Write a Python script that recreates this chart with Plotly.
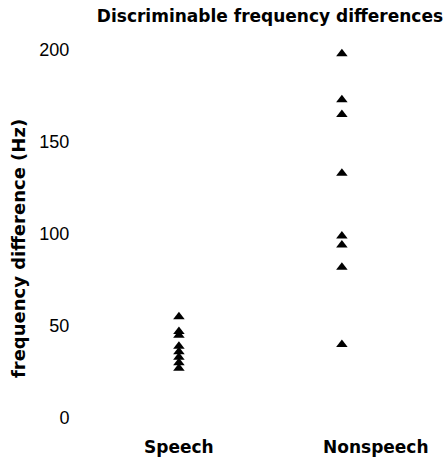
import plotly.graph_objects as go

# Discriminable frequency differences (Hz) per listener
categories = ["Speech", "Nonspeech"]
cat_pos = [1, 2]
speech_hz = [55, 47, 45, 39, 36, 33, 30, 27]
nonspeech_hz = [198, 173, 165, 133, 99, 94, 82, 40]
y_ticks = [0, 50, 100, 150, 200]

BOLD = dict(family="DejaVu Sans", size=17, color="black", weight="bold")

fig = go.Figure()
for pos, vals in zip(cat_pos, [speech_hz, nonspeech_hz]):
    fig.add_trace(go.Scatter(
        x=[pos] * len(vals), y=vals, mode="markers",
        marker=dict(symbol="triangle-up", size=10, color="black", line=dict(width=0)),
        showlegend=False, hoverinfo="y",
    ))

fig.update_layout(
    width=444, height=460,
    margin=dict(l=80, r=4, t=30, b=30),
    paper_bgcolor="white", plot_bgcolor="white",
    title=dict(text="Discriminable frequency differences", font=BOLD,
               xref="container", yref="container", x=0.608, y=0.965,
               xanchor="center", yanchor="middle"),
    xaxis=dict(range=[0.393, 2.602], showgrid=False, zeroline=False,
               showline=False, showticklabels=False, ticks=""),
    yaxis=dict(range=[-6.5, 210.9], tickvals=y_ticks, showgrid=False,
               zeroline=False, showline=False, ticks="outside", ticklen=6,
               tickcolor="rgba(0,0,0,0)",
               tickfont=dict(family="Liberation Sans", size=18, color="black")),
    annotations=[
        dict(text="frequency difference (Hz)", textangle=-90,
             font=dict(BOLD, size=18),
             xref="paper", yref="paper", x=-0.172, y=0.4525,
             xanchor="center", yanchor="middle", showarrow=False),
        dict(text=categories[0], font=BOLD, xref="x", yref="paper",
             x=cat_pos[0], y=-0.0425, xanchor="center", yanchor="middle",
             showarrow=False),
        dict(text=categories[1], font=BOLD, xref="x", yref="paper",
             x=cat_pos[1] + 0.209, y=-0.0425, xanchor="center", yanchor="middle",
             showarrow=False),
    ],
)

fig.write_html("out.html")
